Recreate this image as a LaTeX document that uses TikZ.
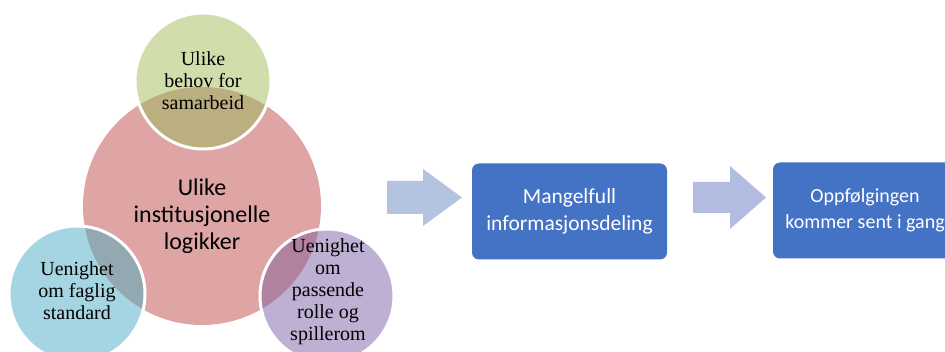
\documentclass[tikz,border=0pt]{standalone}
\usepackage{fontspec}
\setmainfont{Liberation Serif}
\newfontfamily\carlito{Carlito}
\usepackage{tikz}
\usetikzlibrary{positioning}

\definecolor{pinkc}{RGB}{223,165,165}
\definecolor{greenc}{RGB}{209,222,171}
\definecolor{bluec}{RGB}{165,213,226}
\definecolor{purplec}{RGB}{190,176,211}
\definecolor{greenmix}{RGB}{187,174,127}
\definecolor{bluemix}{RGB}{148,168,178}
\definecolor{purplemix}{RGB}{176,130,160}
\definecolor{boxblue}{RGB}{68,114,196}
\definecolor{arrowa}{RGB}{180,195,223}
\definecolor{arrowb}{RGB}{177,188,224}

\begin{document}
\begin{tikzpicture}[x=1pt, y=-1pt,
		ring/.style={draw=white, line width=3pt},
		serif/.style={align=center, font=\fontsize{20}{22}\selectfont},
		sans/.style={align=center, font=\carlito\fontsize{24}{27}\selectfont},
		bluebox/.style={fill=boxblue, rounded corners=7pt, minimum width=195pt, minimum height=96pt,
			text=white, align=center, font=\carlito\fontsize{21.5}{27}\selectfont}]
			\useasboundingbox (0, 0) rectangle (945, 352);
			\clip (0, 0) rectangle (945, 352);
			
			\fill[pinkc] (202, 206) circle (119pt);
			\fill[greenc] (203, 81) circle (68pt);
			\fill[bluec] (77, 294) circle (68pt);
			\fill[purplec] (327, 296) circle (67pt);
			
			\begin{scope}
				\clip (202, 206) circle (119pt);
				\fill[greenmix] (203, 81) circle (68pt);
				\fill[bluemix] (77, 294) circle (68pt);
				\fill[purplemix] (327, 296) circle (67pt);
			\end{scope}
			
			\draw[ring] (203, 81) circle (68pt);
			\draw[ring] (77, 294) circle (68pt);
			\draw[ring] (327, 296) circle (67pt);
			
			\node[serif] (1) at (203, 81) {Ulike\\behov for\\samarbeid};
			\node[sans] (2) at (202, 216) {Ulike\\institusjonelle\\logikker};
			\node[serif] (3) at (77, 291) {Uenighet\\om faglig\\standard};
			\node[serif] (4) at (328, 292) {Uenighet\\om\\passende\\rolle og\\spillerom};
			
			\node[bluebox] (5) at (569.5, 211.5) {Mangelfull\\informasjonsdeling};
			\node[bluebox, minimum width=184pt, font=\carlito\fontsize{20}{26}\selectfont] (6) at (865, 210.5)
				{Oppfølgingen\\kommer sent i gang};
			
			\fill[arrowa] (387, 181) -- (423, 181) -- (423, 169) -- (462, 197.5)
				-- (423, 226) -- (423, 214) -- (387, 214) -- cycle;
			\fill[arrowb] (693, 182) -- (730, 182) -- (730, 166) -- (766, 197.5)
				-- (730, 229) -- (730, 213) -- (693, 213) -- cycle;
		\end{tikzpicture}
\end{document}
